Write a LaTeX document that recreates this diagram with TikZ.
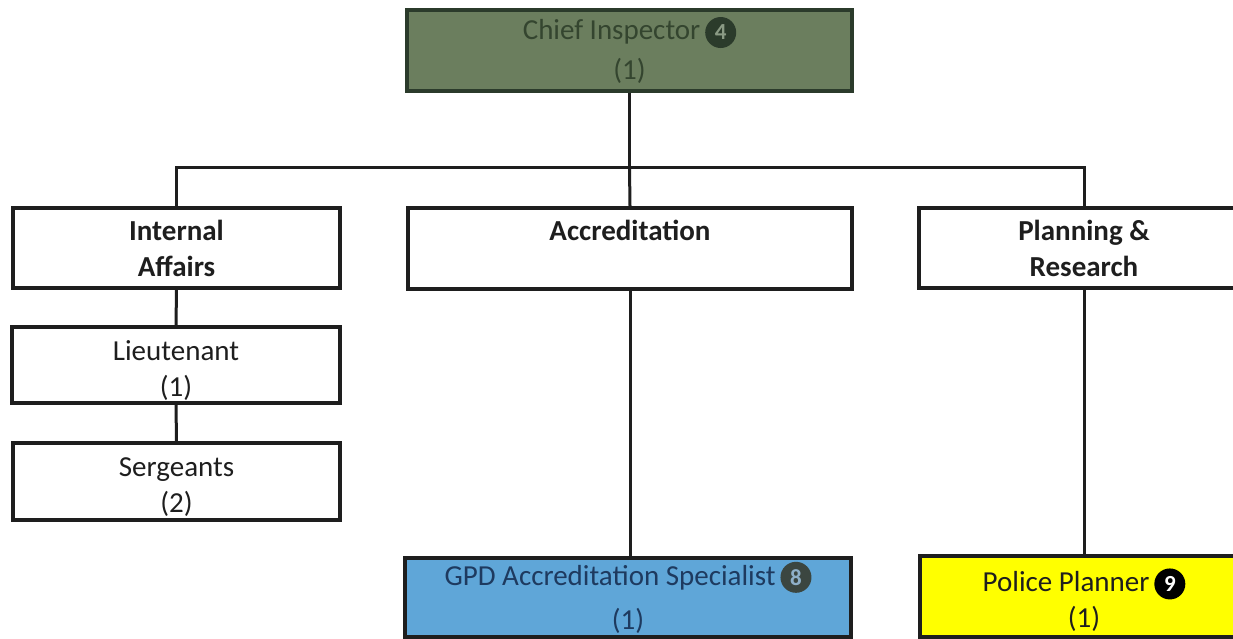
\documentclass[tikz,border=0pt]{standalone}
\usepackage{fontspec}
\setmainfont{Carlito}
\definecolor{chieffill}{HTML}{6B7E5E}
\definecolor{chieftext}{HTML}{34452F}
\definecolor{chiefbadge}{HTML}{2B3B2B}
\definecolor{chiefdigit}{HTML}{8A9A84}
\definecolor{gpdfill}{HTML}{5FA6D8}
\definecolor{gpdtext}{HTML}{1E3A5F}
\definecolor{gpdbadge}{HTML}{3B4640}
\definecolor{gpddigit}{HTML}{8FB0C8}
\definecolor{ppfill}{HTML}{FFFF00}
\definecolor{linecol}{HTML}{1E1E1E}
\newcommand{\mybadge}[4]{\tikz[baseline=(#4.base)]\node (#4) [circle, draw=none, fill=#1, text=#2, inner sep=0pt, minimum size=31pt, font=\fontsize{23}{23}\selectfont\bfseries] {#3};}
\newcommand{\topstrut}{\rule{0pt}{31pt}}
\tikzset{
  orgbox/.style={draw=linecol, line width=3.5pt, rectangle, inner sep=0pt, align=center,
    font=\fontsize{29}{36}\selectfont, text=linecol},
  deptbox/.style={orgbox, fill=white, font=\fontsize{29}{36}\selectfont\bfseries},
  conn/.style={draw=linecol, line width=3pt}
}
\begin{document}
\begin{tikzpicture}[x=1pt,y=-1pt]
\useasboundingbox (0,0) rectangle (1233,639);
\fill[white] (0,0) rectangle (1233,639);
\clip (0,0) rectangle (1233,639);

\node (chief) [orgbox, fill=chieffill, text=chieftext, draw=chiefbadge, minimum width=445pt, minimum height=81pt,
  font=\fontsize{29}{40}\selectfont] at (629.5,50.5)
  {Chief Inspector\,\mybadge{chiefbadge}{chiefdigit}{4}{b4}\\(1)};

\node (ia) [deptbox, minimum width=327pt, minimum height=80pt] at (176.5,248) {Internal\\Affairs};
\node (ac) [deptbox, minimum width=444pt, minimum height=81pt] at (630,248.5) {Accreditation\\\mbox{}};
\node (pr) [deptbox, minimum width=330pt, minimum height=80pt] at (1084,248) {Planning \&\\Research};

\node (lt) [orgbox, fill=white, minimum width=328pt, minimum height=76pt] at (176,365) {\topstrut Lieutenant\\(1)};
\node (sg) [orgbox, fill=white, minimum width=327pt, minimum height=77pt] at (176.5,481.5) {\topstrut Sergeants\\(2)};

\node (gpd) [orgbox, fill=gpdfill, text=gpdtext, minimum width=446pt, minimum height=79pt,
  font=\fontsize{29}{44}\selectfont] at (628,597.5)
  {GPD Accreditation Specialist\,\mybadge{gpdbadge}{gpddigit}{8}{b8}\\(1)};
\node (pp) [orgbox, fill=ppfill, minimum width=328pt, minimum height=81pt] at (1084,596.5)
  {\rule{0pt}{30pt}Police Planner\,\mybadge{black}{white}{9}{b9}\\(1)};

\coordinate (bus) at (629.5,168);
\draw[conn] (chief.south) -- (bus);
\draw[conn] (ia.north) |- (bus) -| (pr.north);
\draw[conn] (bus) -- (ac.north);
\draw[conn] (ia.south) -- (lt.north);
\draw[conn] (lt.south) -- (sg.north);
\draw[conn] (ac.south) -- (gpd.north -| ac.south);
\draw[conn] (pr.south) -- (pp.north);
\end{tikzpicture}
\end{document}
